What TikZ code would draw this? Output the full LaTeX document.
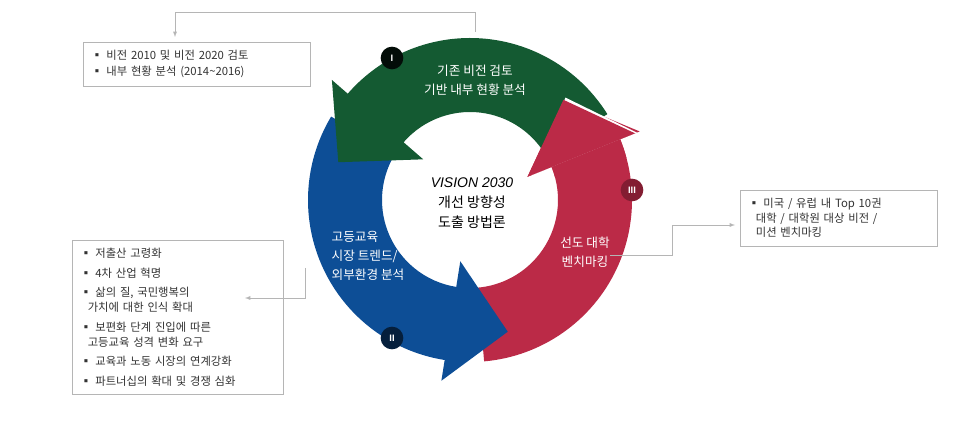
\documentclass[tikz,border=0pt]{standalone}
\usepackage{fontspec}
\setmainfont{Noto Sans CJK KR}
\newfontfamily\latinsans{Liberation Sans}
\usetikzlibrary{calc}
\definecolor{vgreen}{HTML}{145A32}
\definecolor{vred}{HTML}{BB2A47}
\definecolor{vblue}{HTML}{0D4E96}
\definecolor{boxgray}{HTML}{B5B5B5}
\tikzset{
  bullets/.style={draw=boxgray,fill=white,font=\fontsize{8.5}{12}\selectfont,anchor=north west,
    align=left,inner sep=6pt,text=black!80},
  lbl/.style={text=white,font=\fontsize{9.5}{14}\selectfont,align=center},
  num/.style={circle,minimum size=17pt,inner sep=0pt,text=white,font=\latinsans\fontsize{7}{7}\selectfont\bfseries},
  lead/.style={draw=boxgray,-latex}
}
% ring arrow: colour, tail angle, head base angle
\newcommand{\ringarrow}[3]{%
  \fill[#1] (#2:162) arc[start angle=#2,end angle=#3,radius=162]
    -- (#3:183) -- ({#3+25}:137) -- (#3:62) -- (#3:88)
    arc[start angle=#3,end angle=#2,radius=88] -- cycle;}
\begin{document}
\begin{tikzpicture}[x=0.75pt,y=0.75pt]
  \useasboundingbox (0,0) rectangle (970,428);
  \begin{scope}[shift={(470,228)}]
    \ringarrow{vred}{-85}{22}
    \ringarrow{vblue}{149}{261}
    \ringarrow{vgreen}{32}{139}
    % red head over green tail
    \fill[white] (22:180) -- (47:140) -- (22:66) -- cycle;
    \fill[vred] (22:178) -- (47:137) -- (22:62) -- cycle;
    \fill[vred] (22:162) arc[start angle=22,end angle=15,radius=162] -- (15:88)
      arc[start angle=15,end angle=22,radius=88] -- cycle;
  \end{scope}
  \node[num,fill=black!85!vgreen] (n1) at (392,370) {I};
  \node[num,fill=black!60!vblue] (n2) at (392,90) {II};
  \node[num,fill=black!30!vred] (n3) at (632,238) {III};

  \node[lbl] (g) at (475,348) {기존 비전 검토\\기반 내부 현황 분석};
  \node[lbl,align=left] (b) at (368,172) {고등교육\\시장 트렌드/\\외부환경 분석};
  \node[lbl] (r) at (585,176) {선도 대학\\벤치마킹};
  \node[align=center,font=\fontsize{10.5}{15}\selectfont] (c) at (472,225)
    {{\latinsans\itshape VISION 2030}\\개선 방향성\\도출 방법론};

  \node[bullets,text width=158pt] (bx1) at (83,386)
    {▪ 비전 2010 및 비전 2020 검토\\▪ 내부 현황 분석 (2014\textasciitilde 2016)};
  \node[bullets,text width=146pt,font=\fontsize{8.5}{11.5}\selectfont] (bx2) at (72,188)
    {▪ 저출산 고령화\\[3pt]▪ 4차 산업 혁명\\[3pt]▪ 삶의 질, 국민행복의\\\ \ 가치에 대한 인식 확대\\[3pt]
     ▪ 보편화 단계 진입에 따른\\\ \ 고등교육 성격 변화 요구\\[3pt]▪ 교육과 노동 시장의 연계강화\\[3pt]
     ▪ 파트너십의 확대 및 경쟁 심화};
  \node[bullets,text width=136pt,font=\fontsize{8.5}{11}\selectfont] (bx3) at (740,238)
    {▪ 미국 / 유럽 내 Top 10권\\\ \ 대학 / 대학원 대상 비전 /\\\ \ 미션 벤치마킹};

  \coordinate (t1) at (475,396);
  \draw[lead] (t1) |- (175,416) -- (175,391);
  \draw[lead] (305,160) |- (245,130);
  \draw[lead] (610,173) -| (672,203) -- (735,203);
\end{tikzpicture}
\end{document}
